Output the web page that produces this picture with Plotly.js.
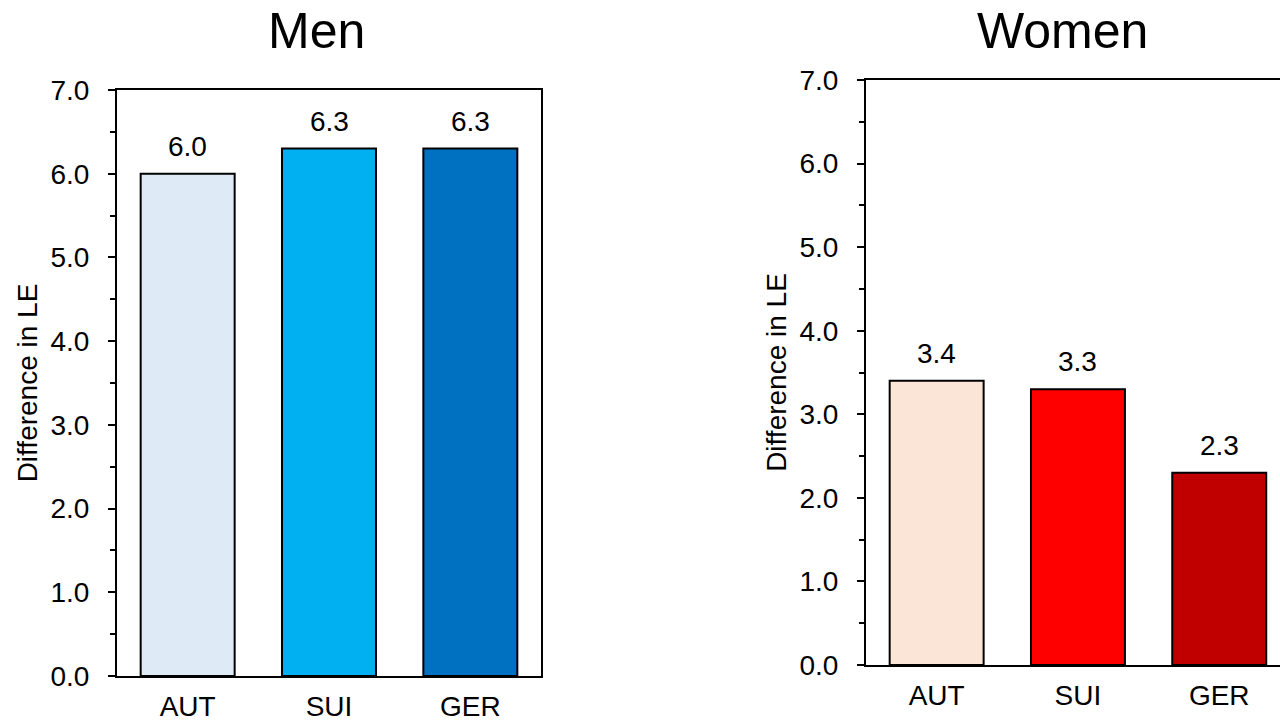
<!DOCTYPE html>
<html>
<head>
<meta charset="utf-8">
<script src="https://cdn.plot.ly/plotly-3.0.1.min.js"></script>
<style>
  html, body { margin: 0; padding: 0; background: #fff; overflow: hidden; }
  #chart { width: 1280px; height: 721px; }
</style>
</head>
<body>
<div id="chart"></div>
<script>
// ---- data ----
const categories = ['AUT', 'SUI', 'GER'];
const menValues = [6.0, 6.3, 6.3];
const womenValues = [3.4, 3.3, 2.3];
const menColors = ['#DEEBF7', '#00B0F0', '#0070C0'];
const womenColors = ['#FBE5D6', '#FF0000', '#C00000'];
const panelTitles = ['Men', 'Women'];
const yTitle = 'Difference in LE';
const yTickVals = [0, 1, 2, 3, 4, 5, 6, 7];

const FONT = '"Liberation Sans", Arial, sans-serif';
const FS = 28;

const traces = [
  {
    type: 'bar', x: categories, y: menValues, xaxis: 'x', yaxis: 'y',
    marker: { color: menColors, line: { color: '#000', width: 2 } },
    width: 0.665, hoverinfo: 'x+y', showlegend: false
  },
  {
    type: 'bar', x: categories, y: womenValues, xaxis: 'x2', yaxis: 'y2',
    marker: { color: womenColors, line: { color: '#000', width: 2 } },
    width: 0.665, hoverinfo: 'x+y', showlegend: false
  }
];

function yAxis(domain, mirror, anchor) {
  return {
    domain: domain, anchor: anchor, range: [0, 7],
    tickvals: yTickVals, tickformat: '.1f',
    ticks: 'outside', ticklen: 7, tickwidth: 2, tickcolor: '#000',
    minor: { dtick: 0.5, ticks: 'outside', ticklen: 5, tickwidth: 2, tickcolor: '#000', showgrid: false },
    showline: true, linecolor: '#000', linewidth: 2, mirror: mirror,
    showgrid: false, zeroline: false,
    tickfont: { family: FONT, size: FS, color: '#000' },
    ticklabelstandoff: 13,
    title: { text: yTitle, font: { family: FONT, size: FS, color: '#000' }, standoff: 5 },
    automargin: false, fixedrange: true
  };
}
function xAxis(domain, range, anchor) {
  return {
    domain: domain, anchor: anchor, range: range, type: 'category',
    showline: true, linecolor: '#000', linewidth: 2, mirror: true,
    ticks: '', showgrid: false, zeroline: false,
    tickfont: { family: FONT, size: FS, color: '#000' },
    ticklabelstandoff: 4,
    automargin: false, fixedrange: true
  };
}

const annotations = [];
categories.forEach((c, i) => {
  annotations.push({ xref: 'x', yref: 'y', x: c, y: menValues[i], text: menValues[i].toFixed(1),
    showarrow: false, yanchor: 'bottom', yshift: 10, font: { family: FONT, size: FS, color: '#000' } });
  annotations.push({ xref: 'x2', yref: 'y2', x: c, y: womenValues[i], text: womenValues[i].toFixed(1),
    showarrow: false, yanchor: 'bottom', yshift: 10, font: { family: FONT, size: FS, color: '#000' } });
});
annotations.push({ xref: 'paper', yref: 'paper', x: 316 / 1280, y: (721 - 31) / 721, text: panelTitles[0],
  showarrow: false, xanchor: 'center', yanchor: 'middle', font: { family: FONT, size: 50, color: '#000' } });
annotations.push({ xref: 'paper', yref: 'paper', x: 1062 / 1280, y: (721 - 31) / 721, text: panelTitles[1],
  showarrow: false, xanchor: 'center', yanchor: 'middle', font: { family: FONT, size: 50, color: '#000' } });

const layout = {
  width: 1280, height: 721,
  margin: { l: 0, r: 0, t: 0, b: 0 },
  paper_bgcolor: '#fff', plot_bgcolor: '#fff',
  showlegend: false,
  font: { family: FONT, color: '#000' },
  xaxis: xAxis([117 / 1280, 541 / 1280], [-0.5, 2.5], 'y'),
  yaxis: yAxis([(721 - 676) / 721, (721 - 90) / 721], true, 'x'),
  xaxis2: xAxis([866 / 1280, 1], [-0.5, -0.5 + 414 / 141.3], 'y2'),
  yaxis2: yAxis([(721 - 665) / 721, (721 - 80) / 721], false, 'x2'),
  annotations: annotations
};

Plotly.newPlot('chart', traces, layout, { displayModeBar: false, staticPlot: true });
</script>
</body>
</html>
